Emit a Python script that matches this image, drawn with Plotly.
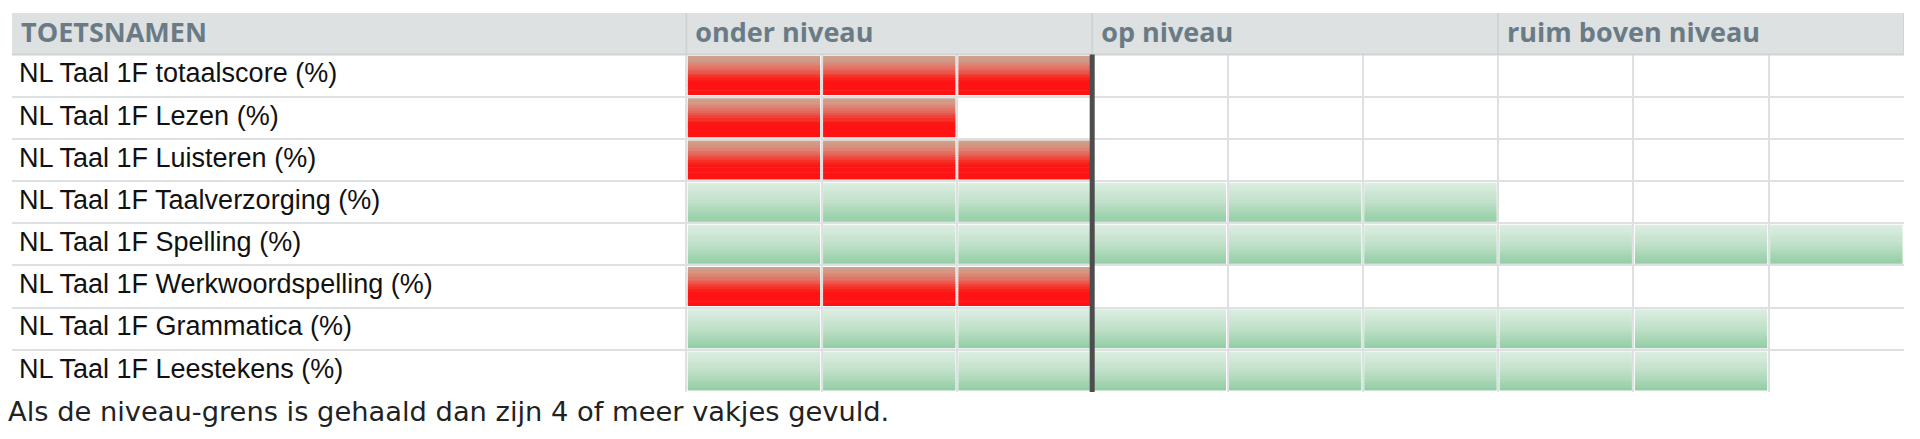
import plotly.graph_objects as go

# data
toetsen = [
    "NL Taal 1F totaalscore (%)",
    "NL Taal 1F Lezen (%)",
    "NL Taal 1F Luisteren (%)",
    "NL Taal 1F Taalverzorging (%)",
    "NL Taal 1F Spelling (%)",
    "NL Taal 1F Werkwoordspelling (%)",
    "NL Taal 1F Grammatica (%)",
    "NL Taal 1F Leestekens (%)",
]
gevuld = [3, 2, 3, 6, 9, 3, 8, 8]          # aantal gevulde vakjes
kolomkoppen = ["TOETSNAMEN", "onder niveau", "op niveau", "ruim boven niveau"]
vakjes_per_niveau = 3
niveau_grens = 3                            # na 3 vakjes begint "op niveau"
voetnoot = "Als de niveau-grens is gehaald dan zijn 4 of meer vakjes gevuld."

# layout (pixel based; page body has an 8px margin)
W, H = 1912, 431
ML, MR, MT, MB = 4, 16, 5, 47
n_vak = 3 * vakjes_per_niveau
plot_w = W - ML - MR
cell_px = 135.3
name_w = (plot_w - n_vak * cell_px) / cell_px   # naamkolom in vakje-eenheden
row_px = 42.2
head_h = 41.5 / row_px
n_rows = len(toetsen)
plot_h = H - MT - MB

gx = 1.5 / cell_px
gy = 1.6 / row_px
STROOKJES = 16                  # gradient opgebouwd uit horizontale strookjes
overlap = 0.6 / row_px

# gradient: 0 = bovenkant, 1 = onderkant
ROOD = [[0, "#cca390"], [0.15, "#d69380"], [0.35, "#e6665a"],
        [0.55, "#f72a22"], [0.65, "#ff1414"], [1, "#ff1212"]]
GROEN = [[0, "#ddeee2"], [0.5, "#bfe0c8"], [1, "#92cda4"]]


def kleur(schaal, t):
    for (t0, c0), (t1, c1) in zip(schaal, schaal[1:]):
        if t <= t1:
            f = (t - t0) / (t1 - t0) if t1 > t0 else 0
            a = [int(c0[j:j + 2], 16) for j in (1, 3, 5)]
            b = [int(c1[j:j + 2], 16) for j in (1, 3, 5)]
            return "rgb(%d,%d,%d)" % tuple(round(a[m] + (b[m] - a[m]) * f) for m in range(3))
    return schaal[-1][1]


fig = go.Figure()

h = 1 - 2 * gy
for i, (naam, n) in enumerate(zip(toetsen, gevuld)):
    if n == 0:
        continue
    schaal = GROEN if n > niveau_grens else ROOD
    for k in range(STROOKJES):
        ya = i + gy + k * h / STROOKJES
        yb = i + gy + (k + 1) * h / STROOKJES + (overlap if k < STROOKJES - 1 else 0)
        xs, ys = [], []
        for c in range(n):
            x0, x1 = c + gx, c + 1 - gx
            xs += [x0, x1, x1, x0, x0, None]
            ys += [ya, ya, yb, yb, ya, None]
        fig.add_trace(go.Scatter(
            x=xs, y=ys, mode="lines", fill="toself",
            line=dict(width=0, color="rgba(0,0,0,0)"),
            fillcolor=kleur(schaal, (k + 0.5) / STROOKJES),
            hoverinfo="skip", showlegend=False,
        ))

# namen
fig.add_trace(go.Scatter(
    x=[-name_w + 7 / cell_px] * n_rows,
    y=[i + 0.5 for i in range(n_rows)],
    mode="text", text=toetsen, textposition="middle right",
    textfont=dict(family="Liberation Sans, Arial, sans-serif", size=27, color="#111111"),
    hoverinfo="skip", showlegend=False,
))

# koppen
kop_x = [-name_w] + [k * vakjes_per_niveau for k in range(3)]
fig.add_trace(go.Scatter(
    x=[x + 9 / cell_px for x in kop_x],
    y=[-head_h / 2 + 0.03] * len(kolomkoppen),
    mode="text", text=["<b>%s</b>" % k for k in kolomkoppen],
    textposition="middle right",
    textfont=dict(family="Open Sans, sans-serif", size=27, color="#6a7b86"),
    hoverinfo="skip", showlegend=False,
))

shapes = [
    dict(type="rect", xref="x", yref="y", x0=-name_w, x1=n_vak, y0=-head_h, y1=0,
         fillcolor="#dde1e1", line=dict(width=0), layer="between"),
]
for x in kop_x[1:] + [n_vak]:
    shapes.append(dict(type="line", xref="x", yref="y", x0=x, x1=x, y0=-head_h, y1=0,
                       line=dict(color="#cfd4d4", width=2), layer="between"))
shapes.append(dict(type="line", xref="x", yref="y", x0=-name_w, x1=n_vak, y0=0, y1=0,
                   line=dict(color="#cfd4d4", width=2), layer="between"))
shapes.append(dict(type="line", xref="x", yref="y", x0=niveau_grens, x1=niveau_grens,
                   y0=0, y1=n_rows, line=dict(color="#4d4d4d", width=5), layer="above"))

fig.update_layout(
    width=W, height=H,
    margin=dict(l=ML, r=MR, t=MT, b=MB),
    paper_bgcolor="white", plot_bgcolor="white",
    shapes=shapes,
    xaxis=dict(range=[-name_w, n_vak], tickvals=[-name_w] + list(range(n_vak + 1)),
               showticklabels=False, showgrid=True, gridcolor="#dde1e2", gridwidth=2,
               zeroline=False, fixedrange=True),
    yaxis=dict(range=[n_rows, -head_h], tickvals=list(range(n_rows + 1)),
               showticklabels=False, showgrid=True, gridcolor="#dde1e2", gridwidth=2,
               zeroline=False, fixedrange=True),
    annotations=[dict(
        text=voetnoot, xref="paper", yref="paper",
        x=-6 / plot_w, y=-19 / plot_h, xanchor="left", yanchor="middle",
        showarrow=False,
        font=dict(family="DejaVu Sans, Verdana, sans-serif", size=27.3, color="#222222"),
    )],
)

fig.write_html("out.html")
